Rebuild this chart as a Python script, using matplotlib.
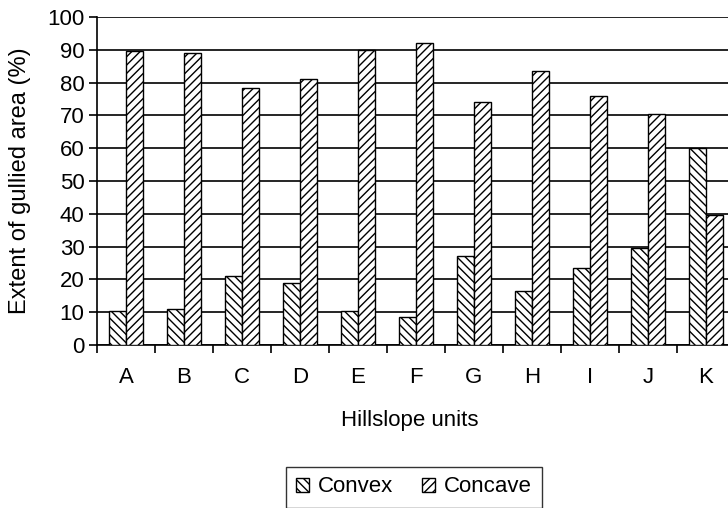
import numpy as np
import matplotlib
matplotlib.use("Agg")
from matplotlib import pyplot as plt
from matplotlib.patches import Patch

units = ["A", "B", "C", "D", "E", "F", "G", "H", "I", "J", "K"]
convex = [10.5, 11, 21, 19, 10.5, 8.5, 27, 16.5, 23.5, 29.5, 60]
concave = [89.5, 89, 78.5, 81, 90, 92, 74, 83.5, 76, 70.5, 39.5]

plt.rcParams['font.family'] = ['Liberation Sans', 'DejaVu Sans']
plt.rcParams['hatch.linewidth'] = 1.0
fs = 16

fig = plt.figure(figsize=(7.28, 5.08), dpi=100)
ax = fig.add_axes([97 / 728, 1 - 345 / 508, 638 / 728, 328 / 508])

x = np.arange(len(units))
w = 0.3
ax.bar(x - w / 2, convex, w, color='white', edgecolor='black', hatch='\\\\\\\\',
       linewidth=1.0, zorder=3)
ax.bar(x + w / 2, concave, w, color='white', edgecolor='black', hatch='////',
       linewidth=1.0, zorder=3)

ax.set_xlim(-0.5, len(units) - 0.5)
ax.set_ylim(0, 100)
ax.set_yticks(range(0, 101, 10))
ax.yaxis.grid(True, color='black', linewidth=1.2, zorder=0)
ax.set_axisbelow(True)

ax.set_xticks(x)
ax.set_xticklabels(units)
ax.set_xticks(np.arange(-0.5, len(units), 1), minor=True)
ax.tick_params(axis='x', which='major', length=0, pad=16, labelsize=fs)
ax.tick_params(axis='x', which='minor', length=6, width=1.2, direction='out')
ax.tick_params(axis='y', length=6, width=1.2, direction='out', pad=3, labelsize=fs)

for s in ['top', 'right']:
    ax.spines[s].set_visible(False)
ax.spines['left'].set_linewidth(1.2)
ax.spines['bottom'].set_linewidth(1.2)

ax.set_ylabel("Extent of gullied area (%)", fontsize=17)
ax.yaxis.set_label_coords((31 - 97) / 638, 0.5)
ax.set_xlabel("Hillslope units", fontsize=fs)
ax.xaxis.set_label_coords((410 - 97) / 638, (345 - 410) / 328)

handles = [Patch(facecolor='white', edgecolor='black', hatch='\\\\\\\\', label='Convex'),
           Patch(facecolor='white', edgecolor='black', hatch='////', label='Concave')]
leg = fig.legend(handles=handles, loc='center', bbox_to_anchor=(414 / 728, 1 - 487 / 508),
                 ncol=2, fontsize=fs, frameon=True, fancybox=False, edgecolor='black',
                 handlelength=0.6, handleheight=0.6, handletextpad=0.4, columnspacing=1.3,
                 borderpad=0.45)
leg.get_frame().set_linewidth(1.0)

fig.savefig("out.png", dpi=100)
